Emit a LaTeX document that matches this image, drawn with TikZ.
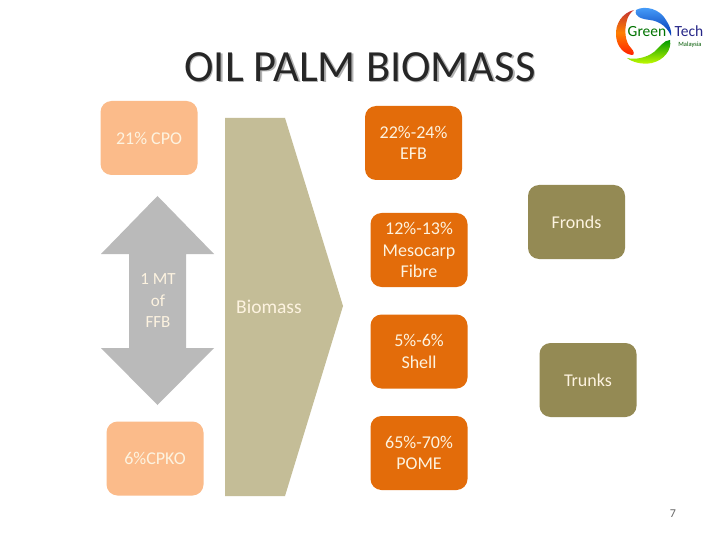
\documentclass[tikz,border=0pt]{standalone}
\usepackage{fontspec}
\setmainfont{Carlito}
\definecolor{peach}{HTML}{FBBB8A}
\definecolor{orng}{HTML}{E36C0A}
\definecolor{olv}{HTML}{948A54}
\definecolor{tan1}{HTML}{C4BD97}
\definecolor{gry}{HTML}{BABABA}
\definecolor{cream}{HTML}{FDF3E0}
\tikzset{
 card/.style={rounded corners=11pt,minimum width=97pt,minimum height=74pt,align=center,text=cream,inner sep=0pt,font=\fontsize{18}{21.5}\selectfont},
 peachcard/.style={card,fill=peach},
 orangecard/.style={card,fill=orng},
 olivecard/.style={card,fill=olv},
 lbl/.style={text=cream,align=center,inner sep=0pt,font=\fontsize{17}{21.5}\selectfont}
}
\begin{document}
\begin{tikzpicture}[x=1pt,y=-1pt]
\useasboundingbox (0,0) rectangle (720,540);
\fill[white] (0,0) rectangle (720,540);
% title
\node[text=black!30,inner sep=0pt,font=\fontsize{44.5}{46}\selectfont] (titleshadow) at (361.5,68.5) {OIL PALM BIOMASS};
\node[text=black!85,inner sep=0pt,font=\fontsize{44.5}{46}\selectfont] (title) at (360,67) {OIL PALM BIOMASS};
% left cards
\node[peachcard] (cpo) at (149,138) {21\% CPO};
\node[peachcard] (cpko) at (155,458.5) {6\%CPKO};
% double arrow
\fill[gry] (157.5,196) -- (214,254) -- (186,254) -- (186,348) -- (214,348) -- (157.5,405) -- (101,348) -- (129,348) -- (129,254) -- (101,254) -- cycle;
\node[lbl] (ffb) at (158,301) {1 MT\\of\\FFB};
% pentagon
\fill[tan1] (225,118) -- (285,118) -- (343,306) -- (285,496) -- (225,496) -- cycle;
\node[lbl,anchor=west,font=\fontsize{19.5}{22}\selectfont] (biomass) at (236,307) {Biomass};
% orange cards
\node[orangecard] (efb) at (413.5,143) {22\%-24\%\\EFB};
\node[orangecard] (fibre) at (419,250) {12\%-13\%\\Mesocarp\\Fibre};
\node[orangecard] (shell) at (419,351.5) {5\%-6\%\\Shell};
\node[orangecard] (pome) at (419,453) {65\%-70\%\\POME};
% olive cards
\node[olivecard] (fronds) at (576.5,222) {Fronds};
\node[olivecard] (trunks) at (588,380) {Trunks};
% page number
\node[text=black!60,inner sep=0pt,font=\fontsize{12}{14}\selectfont] (pagenum) at (673,514) {7};
% logo
\shade[top color=red!70!black!80,bottom color=red!75!orange,middle color=orange]
 (634,10) .. controls (622,13) and (615,24) .. (616,36) .. controls (617,47) and (624,54) .. (632,55) .. controls (635,55) and (634,51) .. (631,48) .. controls (625,42) and (624,30) .. (627,20) .. controls (628,16) and (631,12) .. (634,10) -- cycle;
\shade[top color=blue!50!cyan!70!white,bottom color=blue!70!cyan!70!black]
 (636,10) .. controls (645,5) and (660,9) .. (666,20) .. controls (670,26) and (672,32) .. (671,36) .. controls (668,28) and (660,21) .. (650,20) .. controls (642,19) and (634,17) .. (636,10) -- cycle;
\shade[top color=green!60!black,bottom color=yellow!80!green]
 (670,40) .. controls (672,50) and (664,60) .. (652,63) .. controls (642,65) and (632,62) .. (627,58) .. controls (635,60) and (646,58) .. (654,52) .. controls (660,47) and (664,40) .. (670,40) -- cycle;
\node[text=green!45!black,inner sep=0pt,font=\fontsize{15.5}{15}\selectfont] (logogreen) at (647,31.5) {Green};
\node[text=blue!45!black!85,inner sep=0pt,font=\fontsize{15.5}{15}\selectfont] (logotech) at (689,31.5) {Tech};
\node[text=green!35!black,inner sep=0pt,font=\fontsize{6.5}{7}\selectfont] (logomy) at (690,44.5) {Malaysia};
\end{tikzpicture}
\end{document}
